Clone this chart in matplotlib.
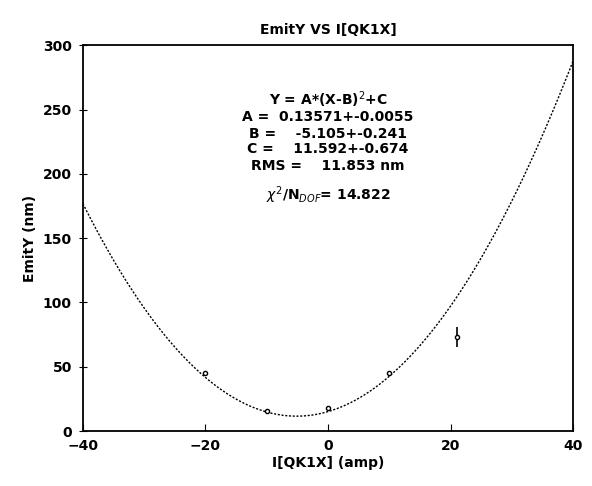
import numpy as np
import matplotlib
matplotlib.use("Agg")
import matplotlib.pyplot as plt

# data
x_pts = [-20, -10, 0, 10, 21]
y_pts = [45, 16, 18, 45, 73]
y_err = [2, 1.5, 1.5, 2, 8]
A, B, C = 0.13571, -5.105, 11.592
x_ticks = [-40, -20, 0, 20, 40]
y_ticks = [0, 50, 100, 150, 200, 250, 300]

fig = plt.figure(figsize=(5.92, 4.86), dpi=100)
ax = fig.add_axes([0.140, 0.113, 0.828, 0.794])

xf = np.linspace(-40, 40, 400)
ax.plot(xf, A * (xf - B) ** 2 + C, color="black", lw=1.0, ls=(0, (1.5, 1.2)))
ax.errorbar(x_pts, y_pts, yerr=y_err, fmt="o", ms=3, mfc="white", mec="black",
            ecolor="black", elinewidth=1.2, capsize=0, color="black")

ax.set_xlim(-40, 40)
ax.set_ylim(0, 300)
ax.set_xticks(x_ticks)
ax.set_yticks(y_ticks)
ax.tick_params(axis="x", direction="in", length=5, labelsize=10, pad=6)
ax.tick_params(axis="y", direction="inout", length=6, labelsize=10, pad=5)
for lab in ax.get_xticklabels() + ax.get_yticklabels():
    lab.set_fontweight("bold")
for s in ax.spines.values():
    s.set_linewidth(1.3)

ax.set_title("EmitY VS I[QK1X]", fontsize=10, fontweight="bold", pad=8)
ax.set_xlabel("I[QK1X] (amp)", fontsize=10, fontweight="bold", labelpad=2)
ax.set_ylabel("EmitY (nm)", fontsize=10, fontweight="bold")

lines = [
    (258, r"Y = A*(X-B)$^2$+C"),
    (244, "A =  0.13571+-0.0055"),
    (231, "B =    -5.105+-0.241"),
    (219, "C =    11.592+-0.674"),
    (206, "RMS =    11.853 nm"),
    (183, r"$\chi^2$/N$_{DOF}$= 14.822"),
]
for yv, t in lines:
    ax.text(0, yv, t, ha="center", va="center", fontsize=10, fontweight="bold")

fig.savefig("out.png", dpi=100)
